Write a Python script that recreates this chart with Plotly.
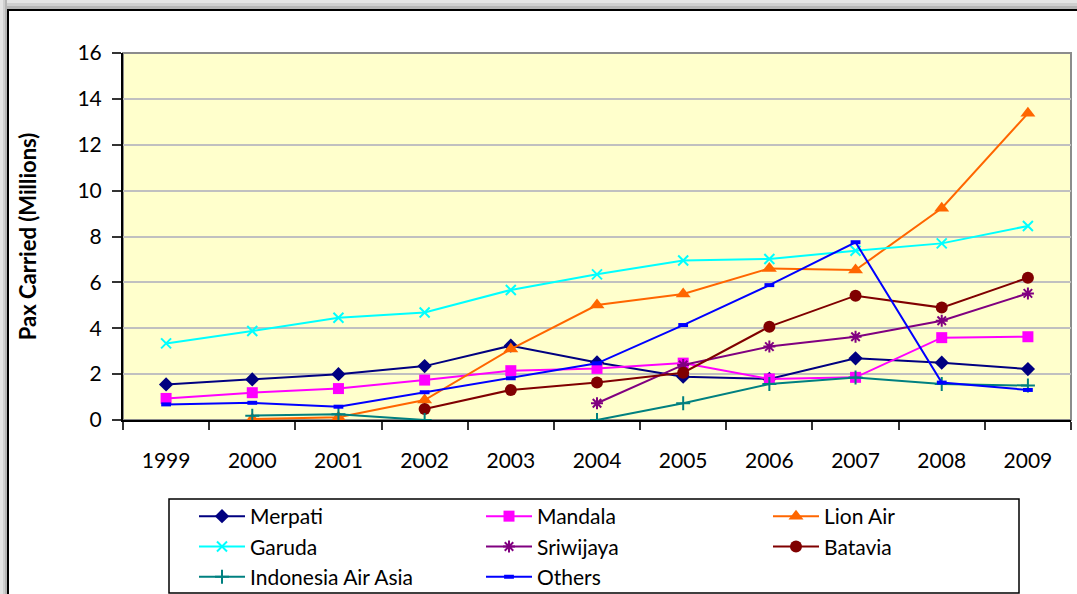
import plotly.graph_objects as go

years = ["1999", "2000", "2001", "2002", "2003", "2004", "2005", "2006", "2007", "2008", "2009"]

merpati = [1.55, 1.77, 2.0, 2.35, 3.24, 2.51, 1.89, 1.79, 2.69, 2.50, 2.22]
mandala = [0.94, 1.19, 1.37, 1.74, 2.15, 2.25, 2.48, 1.79, 1.86, 3.59, 3.63]
lion_air = [None, 0.04, 0.12, 0.87, 3.09, 5.01, 5.49, 6.61, 6.54, 9.23, 13.37]
garuda = [3.34, 3.88, 4.46, 4.69, 5.67, 6.35, 6.95, 7.02, 7.38, 7.70, 8.46]
sriwijaya = [None, None, None, None, None, 0.73, 2.40, 3.20, 3.63, 4.33, 5.52]
batavia = [None, None, None, 0.48, 1.31, 1.63, 2.06, 4.07, 5.42, 4.90, 6.20]
air_asia = [None, 0.19, 0.25, 0.0, None, 0.0, 0.73, 1.57, 1.85, 1.57, 1.50]
others = [0.68, 0.75, 0.58, 1.21, 1.82, 2.47, 4.14, 5.88, 7.75, 1.63, 1.31]

y_ticks = [0, 2, 4, 6, 8, 10, 12, 14, 16]

series = [
    ("Merpati", merpati, "#000080", "diamond", 11, 0),
    ("Mandala", mandala, "#FF00FF", "square", 11, 0),
    ("Lion Air", lion_air, "#FF6600", "triangle-up", 13, 0),
    ("Garuda", garuda, "#00FFFF", "x-thin-open", 10, 2),
    ("Sriwijaya", sriwijaya, "#800080", "asterisk-open", 10, 2),
    ("Batavia", batavia, "#800000", "circle", 12, 0),
    ("Indonesia Air Asia", air_asia, "#008080", "cross-thin-open", 10, 2),
    ("Others", others, "#0000FF", "line-ew-open", 7, 4),
]

FONT = "Lato, 'Open Sans', sans-serif"

fig = go.Figure()
for name, vals, color, sym, size, lw in series:
    fig.add_trace(go.Scatter(
        x=years, y=vals, name=name, mode="lines+markers",
        line=dict(color=color, width=2),
        marker=dict(symbol=sym, size=size, color=color,
                    line=dict(color=color, width=lw)),
        connectgaps=False,
    ))

# geometry helpers (pixel -> paper)
W, H = 1077, 594
L, R, T, B = 123, 6, 53, 174
PW, PH = W - L - R, H - T - B


def px(x):
    return (x - L) / PW


def py(y):
    return (H - B - y) / PH


shapes = []
# shadow strips around the outer frame
for (a, b, c) in [(0, 3, "#e4e4e4"), (3, 6, "#cfcfcf"), (6, 9, "#b5b5b5")]:
    shapes.append(dict(type="rect", xref="paper", yref="paper",
                       x0=px(0), x1=px(W + 20), y0=py(b), y1=py(a),
                       line=dict(width=0), fillcolor=c, layer="below"))
for (a, b, c) in [(0, 3, "#e4e4e4"), (3, 5, "#cfcfcf"), (5, 7, "#b5b5b5")]:
    shapes.append(dict(type="rect", xref="paper", yref="paper",
                       x0=px(a), x1=px(b), y0=py(H + 20), y1=py(0),
                       line=dict(width=0), fillcolor=c, layer="below"))
# outer black frame
shapes.append(dict(type="rect", xref="paper", yref="paper",
                   x0=px(8), x1=px(W + 30), y0=py(H + 30), y1=py(10),
                   line=dict(color="black", width=2), fillcolor="rgba(0,0,0,0)"))
# plot area gray border (top/right)
shapes.append(dict(type="rect", xref="paper", yref="paper",
                   x0=0, x1=1, y0=0, y1=1,
                   line=dict(color="#8c8c8c", width=2), fillcolor="rgba(0,0,0,0)",
                   layer="below"))
# legend box
shapes.append(dict(type="rect", xref="paper", yref="paper",
                   x0=px(169), x1=px(1019), y0=py(593), y1=py(499),
                   line=dict(color="black", width=1.5), fillcolor="rgba(0,0,0,0)"))

fig.update_layout(
    width=W, height=H,
    margin=dict(l=L, r=R, t=T, b=B, autoexpand=False),
    paper_bgcolor="white",
    plot_bgcolor="#FFFFCC",
    font=dict(family=FONT, color="black"),
    shapes=shapes,
    showlegend=True,
    legend=dict(
        orientation="h", x=px(194), xanchor="left", y=py(496), yanchor="top",
        font=dict(size=21, family=FONT), entrywidth=226, entrywidthmode="pixels",
        itemwidth=46,
        bgcolor="rgba(0,0,0,0)", borderwidth=0, traceorder="normal",
    ),
    xaxis=dict(
        type="category", categoryorder="array", categoryarray=years,
        showgrid=False, showline=True, linecolor="black", linewidth=2,
        ticks="outside", ticklen=8, tickwidth=2, tickcolor="#333",
        tickson="boundaries", tickfont=dict(size=21), ticklabelstandoff=21,
        range=[-0.5, len(years) - 0.5], zeroline=False,
    ),
    yaxis=dict(
        range=[0, 16], tickvals=y_ticks, ticktext=[str(v) for v in y_ticks],
        showgrid=True, gridcolor="#C0C0C0", gridwidth=1.5,
        showline=True, linecolor="black", linewidth=2,
        ticks="outside", ticklen=9, tickwidth=2, tickcolor="#333",
        tickfont=dict(size=21), ticklabelstandoff=6, zeroline=False,
        title=dict(text="Pax Carried (Millions)", font=dict(size=22, family=FONT, weight="bold"),
                   standoff=35),
    ),
)

fig.write_html("out.html", config={"displayModeBar": False},
               post_script="document.body.style.margin='0';")
